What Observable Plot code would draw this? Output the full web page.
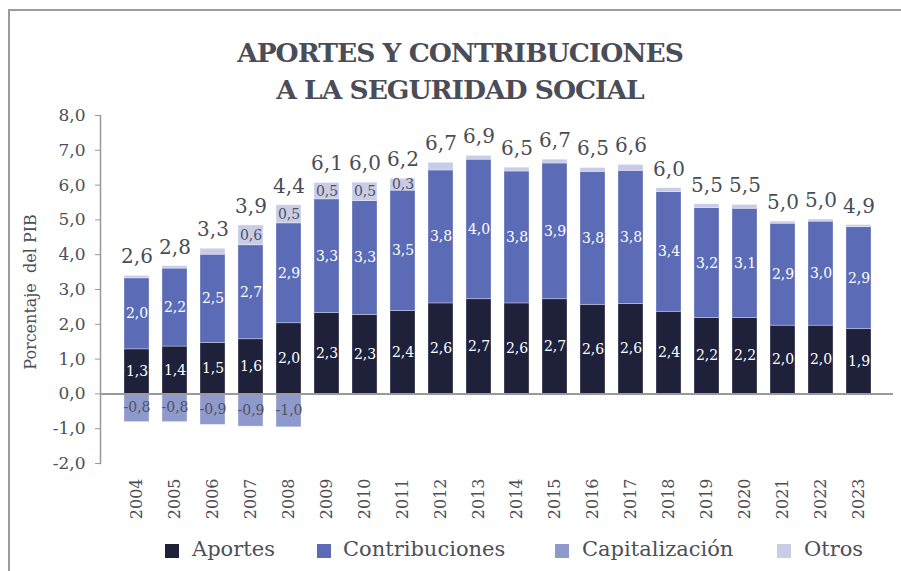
<!DOCTYPE html>
<html><head><meta charset="utf-8">
<script src="https://cdn.jsdelivr.net/npm/d3@7"></script>
<script src="https://cdn.jsdelivr.net/npm/@observablehq/plot@0.6"></script>
<style>
body{margin:0;background:#fff;font-family:"DejaVu Serif",serif;}
#wrap{position:relative;width:901px;height:571px;overflow:hidden;background:#fff;}
#frame{position:absolute;left:8px;top:9px;width:1000px;height:1000px;border-left:2px solid #9b9b9b;border-top:2px solid #9b9b9b;}
#chart{position:absolute;left:0;top:0;}
#title{position:absolute;left:8px;width:904px;top:34px;text-align:center;font-weight:bold;font-size:26.5px;line-height:37px;color:#4a4d57;letter-spacing:-1px;}
#ylab{position:absolute;left:30px;top:292px;transform:translate(-50%,-50%) rotate(-90deg);white-space:pre;font-size:16px;color:#4d4f57;}
.lg{position:absolute;top:536px;font-size:21px;color:#4d4f57;white-space:nowrap;line-height:26px;}
.sw{position:absolute;top:544px;width:14px;height:14px;}
</style></head>
<body>
<div id="wrap">
  <div id="frame"></div>
  <div id="chart"></div>
  <div id="title">APORTES Y CONTRIBUCIONES<br>A LA SEGURIDAD SOCIAL</div>
  <div id="ylab">Porcentaje  del PIB</div>
  <div id="legend"></div>
</div>
<script>
const years = ["2004","2005","2006","2007","2008","2009","2010","2011","2012","2013","2014","2015","2016","2017","2018","2019","2020","2021","2022","2023"];
const series = ["Aportes","Contribuciones","Capitalización","Otros"];
const colors = ["#1e2139","#5b6bb5","#8e99cc","#c8cce6"];
const aportes = [1.28,1.36,1.46,1.57,2.03,2.32,2.27,2.38,2.60,2.72,2.60,2.72,2.56,2.58,2.36,2.18,2.18,1.96,1.96,1.86];
const contribuciones = [2.04,2.24,2.54,2.70,2.87,3.27,3.27,3.46,3.82,4.01,3.79,3.90,3.82,3.83,3.44,3.16,3.14,2.93,2.99,2.93];
const capitalizacion = [-0.81,-0.81,-0.89,-0.94,-0.96,0,0,0,0,0,0,0,0,0,0,0,0,0,0,0];
const otros = [0.07,0.07,0.17,0.57,0.52,0.47,0.53,0.34,0.22,0.11,0.11,0.11,0.11,0.17,0.11,0.11,0.11,0.06,0.06,0.06];
const totales = [2.6,2.8,3.3,3.9,4.4,6.1,6.0,6.2,6.7,6.9,6.5,6.7,6.5,6.6,6.0,5.5,5.5,5.0,5.0,4.9];
const yTicks = [-2,-1,0,1,2,3,4,5,6,7,8];

const values = [aportes, contribuciones, capitalizacion, otros];
const table = [];
series.forEach((s, k) => years.forEach((y, i) => table.push({year: y, serie: s, value: values[k][i]})));
const posTop = years.map((y, i) => aportes[i] + contribuciones[i] + otros[i]);
const fmt = v => v.toFixed(1).replace(".", ",");

const whiteLabel = d => (d.serie === "Aportes" || d.serie === "Contribuciones") ? fmt(d.value) : "";
const grayLabel = d => (d.serie === "Capitalización" && d.value !== 0) || (d.serie === "Otros" && d.value >= 0.3) ? fmt(d.value) : "";

const chart = Plot.plot({
  width: 901, height: 571,
  marginLeft: 100, marginRight: 8, marginTop: 115, marginBottom: 108,
  insetLeft: 2,
  style: {fontFamily: "DejaVu Serif", background: "transparent", color: "#4d4f57"},
  x: {domain: years, padding: 0.34, label: null},
  y: {domain: [-2, 8], label: null},
  color: {domain: series, range: colors},
  marks: [
    Plot.frame({anchor: "left", stroke: "#999", strokeWidth: 1.5}),
    Plot.barY(table, {x: "year", y: "value", z: "serie", fill: "serie", stroke: "#ffffff", strokeOpacity: 0.45, strokeWidth: 0.7}),
    Plot.ruleY([0], {stroke: "#9a9a9a", strokeWidth: 2}),
    Plot.axisY(yTicks, {tickFormat: fmt, tickSize: 5, tickPadding: 10, fontSize: 17, stroke: "#999", fill: "#4d4f57", label: null}),
    Plot.axisX({tickRotate: -90, tickSize: 0, tickPadding: 15, fontSize: 16, fill: "#4d4f57", label: null}),
    Plot.text(table, Plot.stackY({x: "year", y: "value", z: "serie", text: whiteLabel, fill: "white", fontSize: 14})),
    Plot.text(table, Plot.stackY({x: "year", y: "value", z: "serie", text: grayLabel, fill: "#4f5360", fontSize: 14})),
    Plot.text(years, {x: d => d, y: (d, i) => posTop[i], text: (d, i) => fmt(totales[i]), dy: -19, fontSize: 20, fill: "#4a4d55"})
  ]
});
document.getElementById("chart").appendChild(chart);

const legendPos = [[165, 192], [317, 343], [555, 582], [777, 804]];
const lg = document.getElementById("legend");
series.forEach((s, k) => {
  const sw = document.createElement("div");
  sw.className = "sw"; sw.style.left = legendPos[k][0] + "px"; sw.style.background = colors[k];
  const t = document.createElement("div");
  t.className = "lg"; t.style.left = legendPos[k][1] + "px"; t.textContent = s;
  lg.appendChild(sw); lg.appendChild(t);
});
</script>
</body></html>
